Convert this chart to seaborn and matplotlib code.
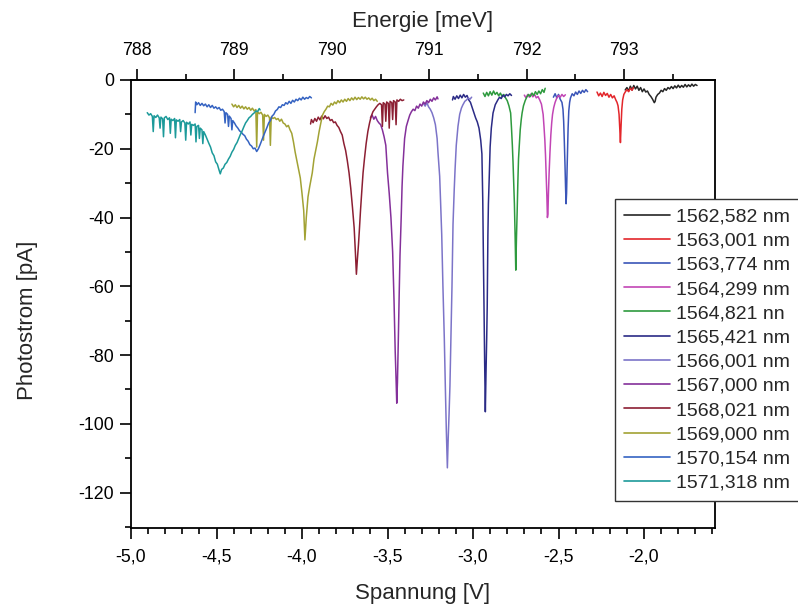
import matplotlib
matplotlib.use('Agg')
import matplotlib.pyplot as plt
from matplotlib.ticker import MultipleLocator, FuncFormatter
import pandas as pd
import seaborn as sns

labels = ['1562,582 nm', '1563,001 nm', '1563,774 nm', '1564,299 nm', '1564,821 nn',
          '1565,421 nm', '1566,001 nm', '1567,000 nm', '1568,021 nm', '1569,000 nm',
          '1570,154 nm', '1571,318 nm']
colors = ['#262626', '#e3262b', '#3a55b8', '#c245b5', '#2e9a3e', '#2b2b86',
          '#7c74c8', '#84309a', '#8c1f33', '#a2a234', '#3563c2', '#1c9a9a']

# (Spannung [V], Photostrom [pA])
s1562 = [(-2.11,-2.9),(-2.10,-2.2),(-2.09,-3.2),(-2.08,-1.8),(-2.07,-2.9),(-2.06,-1.6),(-2.05,-2.6),
         (-2.04,-1.8),(-2.03,-3.0),(-2.02,-2.2),(-2.01,-3.4),(-2.00,-2.6),(-1.99,-3.5),(-1.98,-3.2),
         (-1.97,-4.2),(-1.96,-4.8),(-1.95,-5.6),(-1.94,-6.6),(-1.935,-6.2),(-1.93,-5.0),(-1.92,-4.2),
         (-1.91,-3.8),(-1.90,-3.0),(-1.89,-3.4),(-1.88,-2.5),(-1.87,-3.0),(-1.86,-2.2),(-1.85,-2.6),
         (-1.84,-1.9),(-1.83,-2.5),(-1.82,-1.7),(-1.81,-2.3),(-1.80,-1.5),(-1.79,-2.2),(-1.78,-1.6),
         (-1.77,-2.1),(-1.76,-1.3),(-1.75,-2.0),(-1.74,-1.4),(-1.73,-1.9),(-1.72,-1.2),(-1.71,-1.8),
         (-1.70,-1.3),(-1.69,-1.6)]
s1563 = [(-2.275,-3.5),(-2.265,-4.6),(-2.255,-3.8),(-2.245,-4.8),(-2.235,-3.6),(-2.225,-4.5),
         (-2.215,-3.9),(-2.205,-5.0),(-2.195,-4.2),(-2.185,-5.2),(-2.175,-4.6),(-2.165,-5.8),
         (-2.158,-6.5),(-2.152,-7.5),(-2.146,-10.0),(-2.142,-14.0),(-2.138,-18.2),(-2.134,-13.0),
         (-2.13,-8.5),(-2.125,-5.8),(-2.118,-4.2),(-2.11,-3.5),(-2.10,-2.8),(-2.09,-3.4),(-2.08,-2.4),
         (-2.07,-3.0),(-2.062,-2.2)]
s1563b = [(-2.53,-5.0),(-2.52,-4.0),(-2.51,-5.2),(-2.50,-4.2),(-2.49,-5.6),(-2.48,-6.5),(-2.474,-8.5),
          (-2.47,-12.0),(-2.466,-18.0),(-2.462,-25.0),(-2.459,-31.0),(-2.456,-36.0),(-2.453,-33.0),
          (-2.45,-26.0),(-2.447,-20.0),(-2.444,-14.0),(-2.44,-9.0),(-2.435,-6.5),(-2.43,-5.2),
          (-2.42,-4.0),(-2.41,-4.6),(-2.40,-3.5),(-2.39,-4.2),(-2.38,-3.2),(-2.37,-3.9),(-2.36,-3.0),
          (-2.35,-3.6),(-2.34,-2.8),(-2.33,-3.4)]
s1564 = [(-2.70,-4.4),(-2.69,-5.2),(-2.68,-4.2),(-2.67,-5.0),(-2.66,-4.0),(-2.65,-4.9),(-2.64,-4.2),
         (-2.63,-5.2),(-2.62,-4.8),(-2.61,-5.8),(-2.60,-7.0),(-2.595,-8.5),(-2.59,-10.0),(-2.585,-13.5),
         (-2.58,-17.5),(-2.576,-22.0),(-2.572,-28.0),(-2.568,-34.0),(-2.565,-40.0),(-2.562,-39.0),
         (-2.559,-33.0),(-2.555,-27.0),(-2.55,-21.0),(-2.545,-16.0),(-2.54,-12.5),(-2.535,-10.0),
         (-2.528,-8.0),(-2.52,-6.5),(-2.51,-5.2),(-2.50,-4.5),(-2.49,-5.0),(-2.48,-4.2),(-2.47,-4.8),
         (-2.46,-4.3)]
s1564b = [(-2.94,-3.8),(-2.93,-4.8),(-2.92,-3.6),(-2.91,-4.6),(-2.90,-3.4),(-2.89,-4.4),(-2.88,-3.2),
          (-2.87,-4.2),(-2.86,-3.6),(-2.85,-4.6),(-2.84,-3.8),(-2.83,-4.8),(-2.82,-4.2),(-2.81,-5.2),
          (-2.80,-6.0),(-2.79,-7.5),(-2.78,-9.6),(-2.775,-14.0),(-2.77,-19.0),(-2.766,-24.0),
          (-2.762,-30.0),(-2.758,-36.0),(-2.754,-45.0),(-2.75,-55.3),(-2.746,-46.0),(-2.742,-38.5),
          (-2.738,-30.0),(-2.734,-23.0),(-2.73,-19.5),(-2.724,-14.5),(-2.718,-11.5),(-2.713,-9.6),
          (-2.705,-7.5),(-2.695,-6.0),(-2.685,-4.9),(-2.675,-4.2),(-2.665,-4.8),(-2.655,-3.8),
          (-2.645,-4.5),(-2.635,-3.4),(-2.625,-4.2),(-2.615,-3.2),(-2.605,-4.0),(-2.595,-2.8),
          (-2.585,-3.6),(-2.578,-2.4)]
s1565 = [(-3.12,-5.8),(-3.115,-4.8),(-3.105,-5.6),(-3.095,-4.6),(-3.085,-5.4),(-3.075,-4.4),
         (-3.065,-5.2),(-3.055,-4.2),(-3.045,-5.0),(-3.035,-4.5),(-3.025,-5.8),(-3.015,-6.5),
         (-3.005,-8.0),(-2.995,-9.5),(-2.985,-11.0),(-2.975,-12.2),(-2.965,-14.0),(-2.955,-17.5),
         (-2.948,-21.5),(-2.943,-35.0),(-2.94,-48.6),(-2.936,-65.0),(-2.932,-82.0),(-2.928,-96.5),
         (-2.924,-85.0),(-2.92,-75.0),(-2.917,-66.0),(-2.913,-45.0),(-2.91,-36.0),(-2.905,-28.0),
         (-2.90,-19.5),(-2.893,-14.0),(-2.883,-9.6),(-2.87,-7.2),(-2.855,-5.8),(-2.845,-5.0),
         (-2.835,-5.4),(-2.825,-4.4),(-2.815,-4.9),(-2.805,-4.2),(-2.795,-4.6),(-2.785,-4.0),
         (-2.775,-4.5)]
s1566 = [(-3.29,-6.8),(-3.28,-7.6),(-3.27,-6.6),(-3.26,-7.8),(-3.25,-8.5),(-3.24,-9.5),(-3.23,-11.0),
         (-3.22,-13.0),(-3.21,-17.0),(-3.205,-21.0),(-3.195,-28.0),(-3.19,-35.0),(-3.183,-45.0),
         (-3.176,-60.0),(-3.168,-75.0),(-3.162,-89.0),(-3.156,-102.0),(-3.15,-112.8),(-3.145,-104.0),
         (-3.14,-97.0),(-3.135,-89.0),(-3.128,-72.0),(-3.123,-60.0),(-3.117,-42.0),(-3.11,-32.0),
         (-3.105,-26.0),(-3.098,-19.0),(-3.088,-13.5),(-3.078,-10.0),(-3.068,-8.2),(-3.06,-7.3),
         (-3.048,-6.2),(-3.038,-5.8),(-3.028,-5.2),(-3.018,-5.6),(-3.008,-5.0)]
s1567 = [(-3.60,-11.0),(-3.59,-10.2),(-3.58,-11.4),(-3.57,-10.6),(-3.56,-11.8),(-3.55,-12.5),
         (-3.54,-13.0),(-3.53,-14.5),(-3.52,-16.5),(-3.51,-19.0),(-3.50,-27.0),(-3.49,-33.0),
         (-3.48,-40.0),(-3.47,-50.0),(-3.462,-64.0),(-3.455,-79.0),(-3.45,-87.0),(-3.446,-94.0),
         (-3.442,-88.0),(-3.437,-76.0),(-3.432,-63.0),(-3.427,-51.0),(-3.42,-40.0),(-3.415,-31.0),
         (-3.41,-25.0),(-3.40,-17.0),(-3.39,-13.5),(-3.38,-11.8),(-3.37,-10.2),(-3.36,-9.2),
         (-3.35,-8.5),(-3.34,-8.9),(-3.33,-7.6),(-3.32,-8.2),(-3.31,-7.0),(-3.30,-7.6),(-3.29,-6.4),
         (-3.28,-7.0),(-3.27,-6.0),(-3.26,-6.6),(-3.25,-5.6),(-3.24,-6.2),(-3.23,-5.2),(-3.22,-5.8),
         (-3.21,-4.9),(-3.205,-5.5)]
s1568 = [(-3.95,-12.8),(-3.945,-11.5),(-3.935,-12.4),(-3.925,-11.2),(-3.915,-12.0),(-3.905,-10.8),
         (-3.895,-11.6),(-3.885,-10.5),(-3.875,-11.3),(-3.865,-10.4),(-3.855,-11.2),(-3.845,-10.8),
         (-3.835,-11.8),(-3.825,-11.5),(-3.815,-12.4),(-3.805,-12.2),(-3.795,-13.2),(-3.785,-13.8),
         (-3.775,-15.0),(-3.765,-16.0),(-3.755,-18.5),(-3.745,-20.5),(-3.735,-23.5),(-3.725,-27.0),
         (-3.715,-31.5),(-3.705,-37.0),(-3.695,-43.0),(-3.688,-50.0),(-3.682,-56.5),(-3.676,-52.0),
         (-3.67,-48.0),(-3.665,-44.0),(-3.658,-38.0),(-3.65,-32.0),(-3.643,-27.0),(-3.635,-23.0),
         (-3.625,-18.5),(-3.615,-15.0),(-3.605,-12.5),(-3.595,-10.5),(-3.585,-9.2),(-3.575,-8.5),
         (-3.565,-7.8),(-3.555,-7.2),(-3.545,-6.8),(-3.535,-7.2),(-3.53,-13.5),(-3.525,-6.6),
         (-3.515,-7.0),(-3.51,-12.0),(-3.505,-6.4),(-3.495,-6.8),(-3.49,-14.0),(-3.485,-6.2),
         (-3.475,-6.6),(-3.47,-11.5),(-3.465,-6.0),(-3.455,-6.4),(-3.45,-13.0),(-3.445,-5.8),
         (-3.435,-6.2),(-3.425,-5.6),(-3.415,-6.0),(-3.405,-5.8)]
s1569 = [(-4.41,-7.0),(-4.40,-7.8),(-4.39,-7.2),(-4.38,-8.0),(-4.37,-7.4),(-4.36,-8.2),(-4.35,-7.6),
         (-4.34,-8.4),(-4.33,-7.8),(-4.32,-8.5),(-4.31,-8.0),(-4.30,-8.8),(-4.29,-8.2),(-4.28,-9.0),
         (-4.27,-8.6),(-4.265,-19.5),(-4.26,-9.2),(-4.25,-9.8),(-4.24,-9.4),(-4.23,-10.2),(-4.225,-17.5),
         (-4.22,-10.0),(-4.21,-10.6),(-4.20,-10.2),(-4.19,-11.0),(-4.185,-19.0),(-4.18,-10.8),
         (-4.17,-11.2),(-4.16,-10.9),(-4.15,-11.5),(-4.14,-11.2),(-4.13,-12.0),(-4.12,-11.4),
         (-4.11,-12.5),(-4.10,-12.8),(-4.09,-13.6),(-4.08,-13.2),(-4.07,-14.5),(-4.06,-15.5),
         (-4.05,-18.0),(-4.04,-21.0),(-4.03,-23.5),(-4.02,-26.0),(-4.01,-28.5),(-4.00,-33.0),
         (-3.99,-38.0),(-3.983,-46.5),(-3.975,-40.0),(-3.965,-34.0),(-3.955,-31.0),(-3.94,-27.0),
         (-3.93,-23.0),(-3.92,-20.5),(-3.91,-18.0),(-3.90,-15.0),(-3.89,-12.5),(-3.88,-10.2),
         (-3.87,-9.2),(-3.86,-8.5),(-3.85,-7.6),(-3.84,-7.8),(-3.83,-6.8),(-3.82,-7.3),(-3.81,-6.4),
         (-3.80,-6.9),(-3.79,-6.0),(-3.78,-6.6),(-3.77,-5.8),(-3.76,-6.4),(-3.75,-5.6),(-3.74,-6.2),
         (-3.73,-5.4),(-3.72,-6.0),(-3.71,-5.2),(-3.70,-5.8),(-3.69,-5.0),(-3.68,-5.7),(-3.67,-5.1),
         (-3.66,-5.6),(-3.65,-4.9),(-3.64,-5.5),(-3.63,-5.0),(-3.62,-5.6),(-3.61,-5.2),(-3.60,-5.8),
         (-3.59,-5.3),(-3.58,-6.0),(-3.57,-5.6),(-3.56,-6.2)]
s1570 = [(-4.625,-9.5),(-4.622,-6.4),(-4.615,-7.2),(-4.605,-6.6),(-4.595,-7.4),(-4.585,-6.8),
         (-4.575,-7.5),(-4.565,-7.0),(-4.555,-7.8),(-4.545,-7.2),(-4.535,-8.0),(-4.525,-7.4),
         (-4.515,-8.2),(-4.505,-7.8),(-4.495,-8.4),(-4.485,-8.0),(-4.475,-8.8),(-4.465,-8.5),
         (-4.455,-9.2),(-4.45,-12.5),(-4.445,-9.5),(-4.435,-10.0),(-4.43,-13.5),(-4.425,-10.5),
         (-4.415,-11.2),(-4.41,-14.5),(-4.405,-11.8),(-4.395,-12.5),(-4.385,-13.4),(-4.375,-14.0),
         (-4.365,-14.8),(-4.355,-15.2),(-4.345,-15.8),(-4.335,-16.2),(-4.325,-17.2),(-4.315,-17.8),
         (-4.305,-18.8),(-4.295,-19.2),(-4.285,-20.0),(-4.275,-19.8),(-4.265,-20.8),(-4.255,-20.0),
         (-4.245,-18.8),(-4.235,-17.5),(-4.225,-16.2),(-4.215,-15.0),(-4.205,-13.8),(-4.195,-12.5),
         (-4.185,-11.8),(-4.175,-10.5),(-4.165,-10.0),(-4.155,-9.0),(-4.145,-8.6),(-4.135,-7.8),
         (-4.125,-8.0),(-4.115,-7.2),(-4.105,-7.4),(-4.095,-6.6),(-4.085,-7.0),(-4.075,-6.2),
         (-4.065,-6.8),(-4.055,-5.9),(-4.045,-6.4),(-4.035,-5.6),(-4.025,-6.0),(-4.015,-5.3),
         (-4.005,-5.8),(-3.995,-5.0),(-3.985,-5.6),(-3.975,-5.1),(-3.965,-5.4),(-3.955,-4.8),
         (-3.945,-5.2)]
s1571 = [(-4.905,-9.5),(-4.895,-10.2),(-4.885,-9.8),(-4.875,-10.6),(-4.87,-15.0),(-4.865,-10.4),
         (-4.855,-10.9),(-4.845,-10.2),(-4.835,-11.0),(-4.83,-14.0),(-4.825,-10.8),(-4.815,-11.3),
         (-4.81,-16.5),(-4.805,-11.0),(-4.795,-10.6),(-4.785,-11.5),(-4.775,-11.0),(-4.77,-15.5),
         (-4.765,-11.4),(-4.755,-11.8),(-4.745,-11.2),(-4.74,-16.8),(-4.735,-11.6),(-4.725,-12.0),
         (-4.715,-11.5),(-4.71,-15.0),(-4.705,-12.2),(-4.695,-11.8),(-4.685,-12.5),(-4.68,-17.5),
         (-4.675,-12.3),(-4.665,-12.8),(-4.655,-12.2),(-4.65,-16.0),(-4.645,-12.9),(-4.635,-13.2),
         (-4.625,-12.8),(-4.62,-18.0),(-4.615,-13.5),(-4.605,-13.2),(-4.60,-17.0),(-4.595,-14.0),
         (-4.585,-14.5),(-4.58,-18.5),(-4.575,-15.0),(-4.565,-16.0),(-4.555,-17.2),(-4.545,-18.4),
         (-4.535,-19.5),(-4.525,-21.2),(-4.515,-22.0),(-4.505,-23.8),(-4.495,-24.5),(-4.485,-26.2),
         (-4.478,-27.3),(-4.47,-26.0),(-4.46,-25.6),(-4.45,-24.5),(-4.44,-24.0),(-4.43,-23.0),
         (-4.42,-22.2),(-4.41,-21.0),(-4.40,-20.2),(-4.39,-19.0),(-4.38,-18.2),(-4.37,-17.0),
         (-4.36,-15.8),(-4.35,-14.8),(-4.34,-13.6),(-4.33,-12.5),(-4.32,-11.8),(-4.31,-11.0),
         (-4.30,-10.6),(-4.29,-10.0),(-4.28,-9.6),(-4.27,-9.0),(-4.26,-9.2),(-4.25,-8.3),(-4.245,-8.7)]

series = [s1562, s1563, s1563b, s1564, s1564b, s1565, s1566, s1567, s1568, s1569, s1570, s1571]

rows = []
for lab, s in zip(labels, series):
    for v, i in s:
        rows.append((lab, v, i))
df = pd.DataFrame(rows, columns=['Kurve', 'V', 'I'])

sns.set_style('ticks')
plt.rcParams['font.family'] = ['Liberation Sans', 'DejaVu Sans']
plt.rcParams['axes.unicode_minus'] = False

W, H = 798, 614
fig = plt.figure(figsize=(W / 100, H / 100), dpi=100)
ax = fig.add_axes([131 / W, 1 - 528 / H, (715 - 131) / W, (528 - 80) / H])

sns.lineplot(data=df, x='V', y='I', hue='Kurve', hue_order=labels, palette=colors,
             estimator=None, sort=False, linewidth=1.1, ax=ax)

ax.set_xlim(-5.0, -1.585)
ax.set_ylim(-130.3, 0)
ax.xaxis.set_major_locator(MultipleLocator(0.5))
ax.xaxis.set_minor_locator(MultipleLocator(0.1))
ax.yaxis.set_major_locator(MultipleLocator(20))
ax.yaxis.set_minor_locator(MultipleLocator(10))
ax.xaxis.set_major_formatter(FuncFormatter(lambda x, p: f'{x:.1f}'.replace('.', ',')))
ax.yaxis.set_major_formatter(FuncFormatter(lambda y, p: f'{y:.0f}'))

for sp in ax.spines.values():
    sp.set_linewidth(1.3)
    sp.set_color('black')
ax.tick_params(which='both', direction='out', width=1.2, colors='black', labelsize=12.8)
ax.tick_params(which='major', length=8)
ax.tick_params(which='minor', length=4.5)
ax.tick_params(axis='x', pad=6.5)
ax.tick_params(axis='y', pad=4)

ax.set_xlabel('Spannung [V]', fontsize=16, labelpad=13)
ax.set_ylabel('Photostrom [pA]', fontsize=16)
ax.yaxis.set_label_coords(-0.16, 0.464)


def v2e(v):
    return 788 + (v + 4.965) / 0.5696


def e2v(e):
    return (e - 788) * 0.5696 - 4.965


sec = ax.secondary_xaxis('top', functions=(v2e, e2v))
sec.xaxis.set_major_locator(MultipleLocator(1))
sec.xaxis.set_minor_locator(MultipleLocator(0.5))
sec.xaxis.set_major_formatter(FuncFormatter(lambda e, p: f'{e:.0f}'))
sec.tick_params(which='both', direction='out', width=1.2, colors='black', labelsize=12.8, pad=7)
sec.tick_params(which='major', length=8)
sec.tick_params(which='minor', length=4.5)
sec.spines['top'].set_linewidth(1.3)
sec.set_xlabel('Energie [meV]', fontsize=16, labelpad=11)

handles, labs = ax.get_legend_handles_labels()
ax.get_legend().remove()
leg = fig.legend(handles, labs, loc='upper left', bbox_to_anchor=(615 / W, 1 - 199 / H),
                 bbox_transform=fig.transFigure, borderaxespad=0, fontsize=14,
                 frameon=True, fancybox=False, shadow=False, framealpha=1,
                 edgecolor='#333333', handlelength=2.4, handletextpad=0.3,
                 labelspacing=0.34, borderpad=0.45)
leg.get_frame().set_linewidth(1.0)
for ln in leg.get_lines():
    ln.set_linewidth(1.2)

fig.savefig('out.png', dpi=100)
